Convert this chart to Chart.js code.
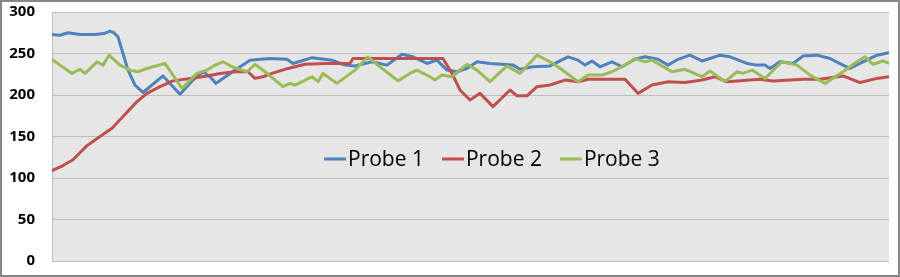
<!DOCTYPE html>
<html>
<head>
<meta charset="utf-8">
<script src="https://cdn.jsdelivr.net/npm/chart.js@4"></script>
<style>
  html, body { margin: 0; padding: 0; background: #ffffff; }
  #c { display: block; }
</style>
</head>
<body>
<canvas id="c" width="900" height="277"></canvas>
<script>
// Series labels
const seriesNames = ["Probe 1", "Probe 2", "Probe 3"];
// Y axis tick values
const yTicks = [0, 50, 100, 150, 200, 250, 300];

// Probe 1 (time, value)
const t1 = [0,8,16,28,43,52,58,62,66,71,76,83,91,111,128,141,151,158,164,178,198,218,235,241,260,280,293,303,320,335,350,361,375,385,395,405,415,425,438,461,468,481,498,516,526,533,540,548,560,570,583,593,606,616,626,638,650,658,668,678,695,705,713,718,728,741,751,765,778,791,798,811,825,837];
const p1 = [273,272,275,273,273,274,277,275,270,250,230,212,203,223,201,218,228,222,214,226,242,244,243,238,245,242,236,235,240,236,249,246,238,242,230,228,232,240,238,236,231,234,235,246,242,236,241,234,240,234,243,246,243,236,243,248,241,244,248,246,238,236,236,232,240,238,247,248,244,236,232,240,248,251];

// Probe 2
const t2 = [0,11,21,35,48,60,71,85,95,108,121,138,155,168,183,196,203,211,220,236,253,273,298,301,391,400,408,418,428,441,458,465,475,485,498,513,526,536,573,586,600,616,633,650,663,675,708,721,751,768,791,808,825,837];
const p2 = [109,115,122,139,150,160,174,192,202,210,217,220,223,226,228,228,220,222,226,232,237,238,238,244,244,226,206,194,202,186,206,199,199,210,212,218,216,219,219,202,212,216,215,218,222,216,219,217,219,219,223,215,220,222];

// Probe 3
const t3 = [0,8,20,28,33,45,51,57,68,78,86,95,101,113,130,145,155,163,171,180,195,203,213,231,238,243,260,266,271,285,303,316,328,346,358,365,378,383,390,400,415,425,438,455,468,485,498,506,526,536,550,560,573,583,593,600,620,633,650,658,673,685,691,700,713,730,745,758,773,791,805,813,821,831,837];
const p3 = [243,236,226,231,226,240,236,248,236,230,228,232,234,238,208,226,230,236,240,234,228,237,228,210,214,212,222,216,226,214,230,246,234,217,226,230,222,218,224,222,237,230,216,235,226,248,240,234,216,224,224,228,236,244,240,242,228,231,222,229,216,228,226,230,220,240,236,224,214,228,240,246,237,241,238];

const colors = ["#4f81bd", "#c0504d", "#9bbb59"];

function pts(t, v) { return t.map((x, i) => ({ x: x, y: v[i] })); }

const plotBg = {
  id: 'plotBg',
  beforeDraw(chart) {
    const { ctx, chartArea: a } = chart;
    ctx.save();
    ctx.fillStyle = '#e6e6e6';
    ctx.fillRect(a.left, a.top, a.right - a.left, a.bottom - a.top);
    ctx.restore();
  },
  afterDraw(chart) {
    const { ctx } = chart;
    // custom legend inside plot area
    ctx.save();
    ctx.font = '21px "Open Sans", sans-serif';
    ctx.textBaseline = 'middle';
    let x = 324;
    const y = 159;
    chart.data.datasets.forEach((ds) => {
      ctx.strokeStyle = ds.borderColor;
      ctx.lineWidth = 3;
      ctx.beginPath();
      ctx.moveTo(x, y);
      ctx.lineTo(x + 22, y);
      ctx.stroke();
      ctx.fillStyle = '#000000';
      ctx.fillText(ds.label, x + 24, y + 1);
      x += 24 + ctx.measureText(ds.label).width + 18;
    });
    // outer border
    ctx.strokeStyle = '#868686';
    ctx.lineWidth = 2;
    ctx.strokeRect(1, 1, 898, 275);
    ctx.restore();
  }
};

new Chart(document.getElementById('c'), {
  type: 'line',
  data: {
    datasets: [
      { label: seriesNames[0], data: pts(t1, p1), borderColor: colors[0], order: 3 },
      { label: seriesNames[1], data: pts(t2, p2), borderColor: colors[1], order: 2 },
      { label: seriesNames[2], data: pts(t3, p3), borderColor: colors[2], order: 1 }
    ]
  },
  options: {
    responsive: false,
    animation: false,
    devicePixelRatio: 1,
    layout: { padding: { top: 12, bottom: 16, left: 0, right: 11 } },
    elements: {
      line: { borderWidth: 3, tension: 0, borderJoinStyle: 'round', borderCapStyle: 'round' },
      point: { radius: 0, hoverRadius: 0 }
    },
    plugins: { legend: { display: false }, tooltip: { enabled: false } },
    scales: {
      x: { type: 'linear', min: 0, max: 837, display: false },
      y: {
        min: 0, max: 300,
        afterFit(s) { s.width = 52; s.paddingTop = 0; s.paddingBottom = 0; },
        afterBuildTicks(s) { s.ticks = yTicks.map(v => ({ value: v })); },
        grid: { color: '#bdbdbd', lineWidth: 1, drawTicks: false },
        border: { display: true, color: '#bdbdbd', width: 1 },
        ticks: {
          padding: 17,
          color: '#000000',
          font: { family: '"Open Sans", sans-serif', size: 15, weight: 'bold' }
        }
      }
    }
  },
  plugins: [plotBg]
});
</script>
</body>
</html>
